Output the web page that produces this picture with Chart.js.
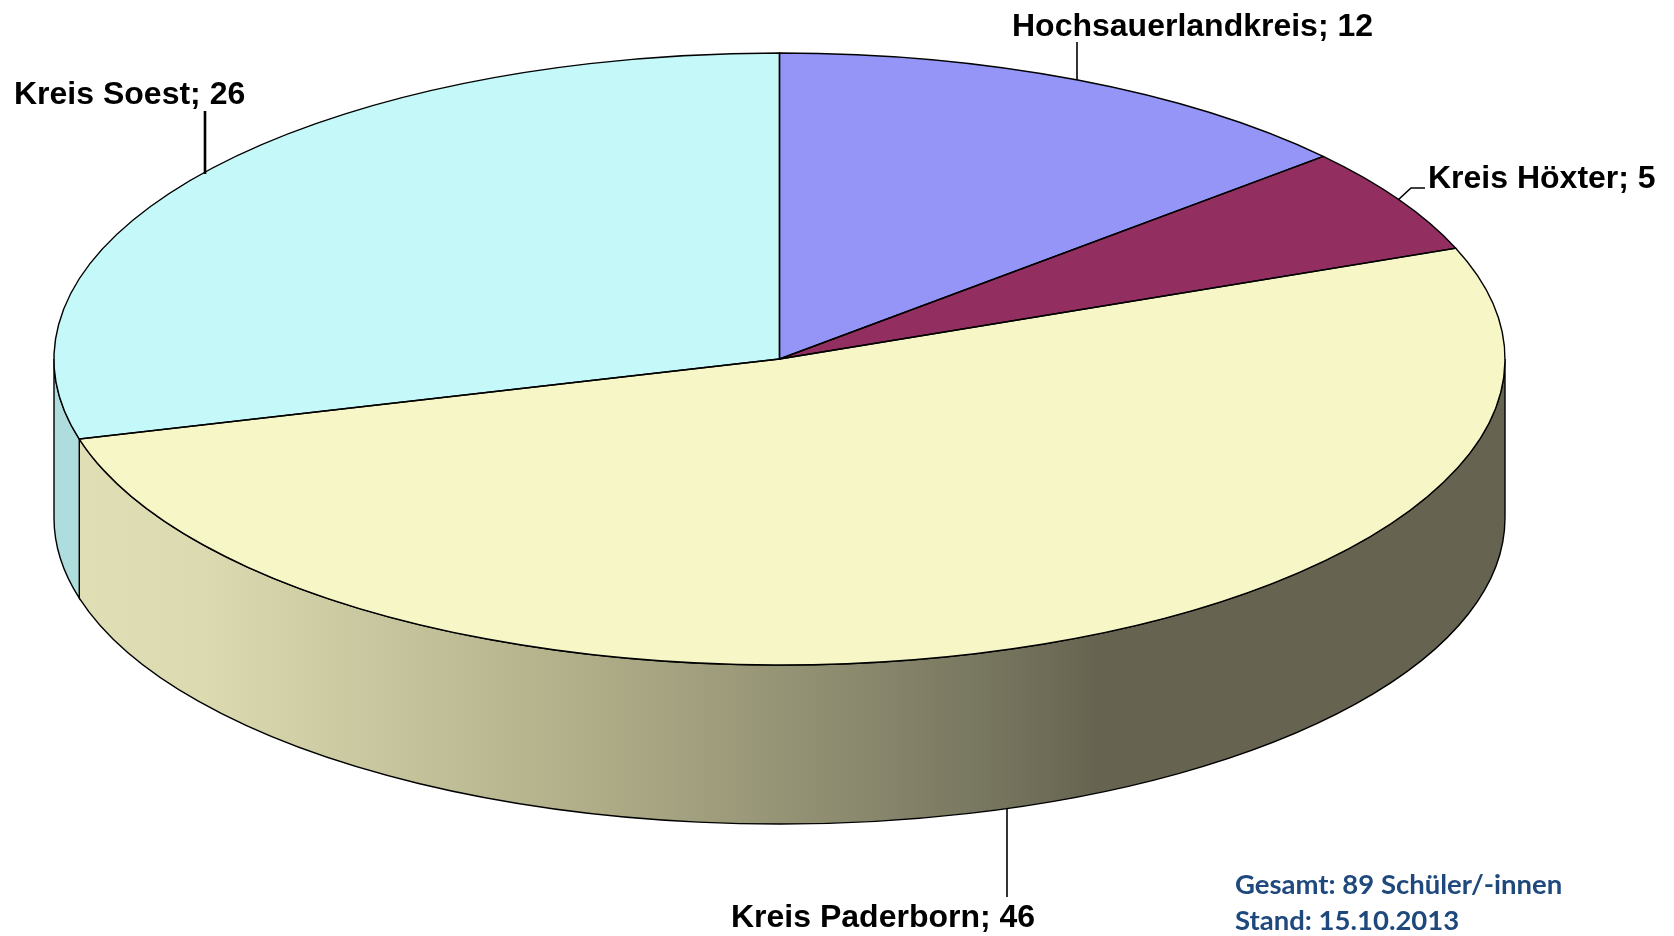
<!DOCTYPE html>
<html lang="de">
<head>
<meta charset="utf-8">
<title>Schüler/-innen nach Kreisen</title>
<script src="https://cdn.jsdelivr.net/npm/chart.js@4"></script>
<style>
  html, body { margin: 0; padding: 0; background: #fff; }
  canvas { display: block; }
</style>
</head>
<body>
<canvas id="pieChart" width="1674" height="936"></canvas>
<script>
const categories = ["Hochsauerlandkreis", "Kreis Höxter", "Kreis Paderborn", "Kreis Soest"];
const values = [12, 5, 46, 26];
const topColors = ["#9595f8", "#932f60", "#f6f6c7", "#c5f8f8"];
const wallColors = ["#6f6f9a", "#5c1e3c", "#666450", "#afdcdc"];
const noteLines = ["Gesamt: 89 Schüler/-innen", "Stand: 15.10.2013"];

// ellipse the round pie gets squashed onto, and height of the side wall
const pie3d = { cx: 779.5, cy: 359, rx: 725.5, ry: 306, depth: 159 };

// label text position and leader line for each category
const labelPos = [
  { x: 1012, y: 36, line: [[1077, 42], [1077, 80]], width: 1.6 },
  { x: 1428, y: 188, line: [[1398, 200], [1411, 188], [1425, 188]], width: 1.6 },
  { x: 731, y: 927, line: [[1007, 808], [1007, 897]], width: 1.6 },
  { x: 14, y: 104, line: [[205, 111], [205, 174]], width: 2.6 }
];

function wallPath(ctx, a0, a1) {
  const p = pie3d;
  ctx.beginPath();
  ctx.ellipse(p.cx, p.cy, p.rx, p.ry, 0, a0, a1);
  ctx.ellipse(p.cx, p.cy + p.depth, p.rx, p.ry, 0, a1, a0, true);
  ctx.closePath();
}

const pie3dPlugin = {
  id: "pie3d",
  beforeDatasetsDraw(chart) {
    const ctx = chart.ctx;
    const arcs = chart.getDatasetMeta(0).data;
    const p = pie3d;

    // side wall, only the part of each slice facing the viewer
    arcs.forEach((arc, i) => {
      const a0 = Math.max(arc.startAngle, 0);
      const a1 = Math.min(arc.endAngle, Math.PI);
      if (a1 <= a0) return;
      wallPath(ctx, a0, a1);
      if (i === 2) {
        const g = ctx.createLinearGradient(80, 0, 1100, 0);
        g.addColorStop(0, "#e0deb5");
        g.addColorStop(0.12, "#dcdab0");
        g.addColorStop(0.5, "#b0ae88");
        g.addColorStop(0.8, "#85846a");
        g.addColorStop(1, "#666450");
        ctx.fillStyle = g;
      } else {
        ctx.fillStyle = wallColors[i];
      }
      ctx.fill();
      ctx.strokeStyle = "#000";
      ctx.lineWidth = 1.4;
      ctx.stroke();
    });

    // the library draws the arcs round, squash them onto the ellipse
    const arc = arcs[0];
    ctx.save();
    ctx.translate(p.cx, p.cy);
    ctx.scale(p.rx / arc.outerRadius, p.ry / arc.outerRadius);
    ctx.translate(-arc.x, -arc.y);
  },
  afterDatasetsDraw(chart) {
    const ctx = chart.ctx;
    const p = pie3d;
    ctx.restore();

    // outlines stroked here so the line width stays even
    ctx.strokeStyle = "#000";
    ctx.lineWidth = 1.4;
    chart.getDatasetMeta(0).data.forEach((arc) => {
      ctx.beginPath();
      ctx.moveTo(p.cx, p.cy);
      ctx.ellipse(p.cx, p.cy, p.rx, p.ry, 0, arc.startAngle, arc.endAngle);
      ctx.closePath();
      ctx.stroke();
    });

    // labels and leader lines
    ctx.fillStyle = "#000";
    ctx.strokeStyle = "#000";
    ctx.font = "bold 32px 'Liberation Sans'";
    ctx.textBaseline = "alphabetic";
    categories.forEach((name, i) => {
      const pos = labelPos[i];
      ctx.lineWidth = pos.width;
      ctx.beginPath();
      pos.line.forEach((pt, k) => (k ? ctx.lineTo(pt[0], pt[1]) : ctx.moveTo(pt[0], pt[1])));
      ctx.stroke();
      ctx.fillText(name + "; " + values[i], pos.x, pos.y);
    });

    // note bottom right
    ctx.fillStyle = "#1f497d";
    ctx.font = "bold 27.5px Lato";
    ctx.fillText(noteLines[0], 1235, 894);
    ctx.fillText(noteLines[1], 1235, 930);
  }
};

new Chart(document.getElementById("pieChart").getContext("2d"), {
  type: "pie",
  data: {
    labels: categories,
    datasets: [
      {
        data: values,
        backgroundColor: topColors,
        borderWidth: 0,
        clip: false,
      },
    ],
  },
  options: {
    responsive: false,
    animation: false,
    plugins: {
      legend: { display: false },
      tooltip: { enabled: false },
    },
  },
  plugins: [pie3dPlugin],
});
</script>
</body>
</html>
